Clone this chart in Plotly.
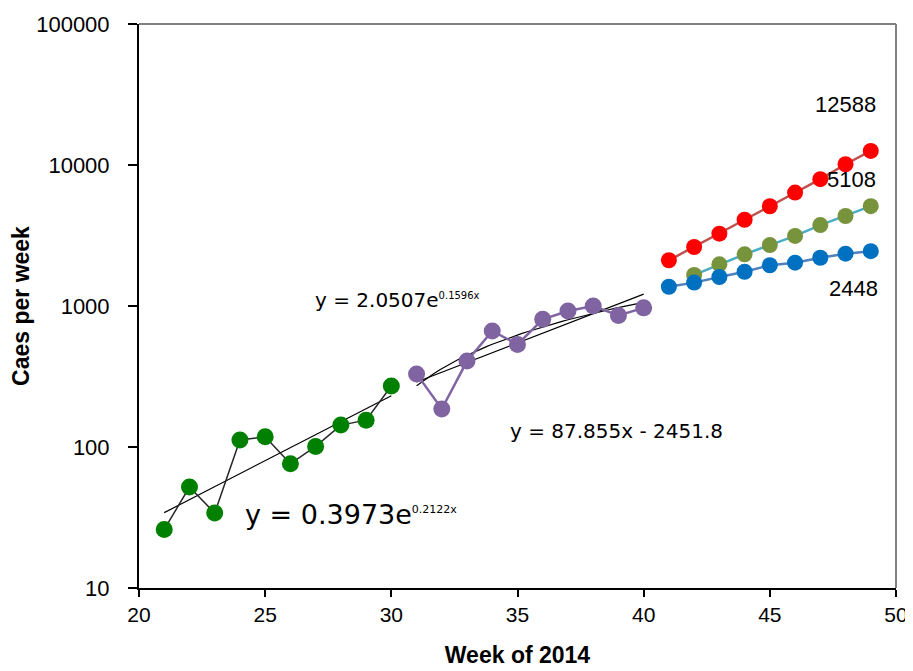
import numpy as np
import plotly.graph_objects as go

# ---- data ----
weeks_early = [21, 22, 23, 24, 25, 26, 27, 28, 29, 30]
cases_early = [26, 52, 34, 112, 118, 76, 101, 143, 155, 271]

weeks_mid = [31, 32, 33, 34, 35, 36, 37, 38, 39, 40]
cases_mid = [330, 186, 407, 665, 534, 804, 921, 1000, 857, 970]

weeks_proj = [41, 42, 43, 44, 45, 46, 47, 48, 49]
proj_high = [2110, 2620, 3260, 4090, 5100, 6370, 7930, 10120, 12588]
weeks_proj_mid = [42, 43, 44, 45, 46, 47, 48, 49]
proj_mid = [1660, 1975, 2325, 2705, 3140, 3750, 4350, 5108]
proj_low = [1370, 1465, 1605, 1750, 1945, 2030, 2200, 2350, 2448]

# trendline coefficients shown on the chart
exp_early = (0.3973, 0.2122)
exp_mid = (2.0507, 0.1596)
lin_mid = (87.855, -2451.8)

y_tickvals = [10, 100, 1000, 10000, 100000]
y_ticktext = ["10", "100", "1000", "10000", "100000"]
x_tickvals = [20, 25, 30, 35, 40, 45, 50]

fig = go.Figure()

# trendlines
xt1 = np.linspace(weeks_early[0], weeks_early[-1], 30)
fig.add_trace(go.Scatter(x=xt1, y=exp_early[0] * np.exp(exp_early[1] * xt1), mode="lines",
                         line=dict(color="#000000", width=1.2), hoverinfo="skip"))
xt2 = np.linspace(weeks_mid[0], weeks_mid[-1], 40)
fig.add_trace(go.Scatter(x=xt2, y=exp_mid[0] * np.exp(exp_mid[1] * xt2), mode="lines",
                         line=dict(color="#000000", width=1.2), hoverinfo="skip"))
fig.add_trace(go.Scatter(x=xt2, y=lin_mid[0] * xt2 + lin_mid[1], mode="lines",
                         line=dict(color="#000000", width=1.2), hoverinfo="skip"))

# observed series
fig.add_trace(go.Scatter(x=weeks_early, y=cases_early, mode="lines+markers",
                         line=dict(color="#262626", width=1.5),
                         marker=dict(color="#008000", size=17)))
fig.add_trace(go.Scatter(x=weeks_mid, y=cases_mid, mode="lines+markers",
                         line=dict(color="#8064A2", width=2.5),
                         marker=dict(color="#8064A2", size=17)))

# projections
fig.add_trace(go.Scatter(x=weeks_proj, y=proj_high, mode="lines+markers",
                         line=dict(color="#C0504D", width=2.5),
                         marker=dict(color="#FF0000", size=16)))
fig.add_trace(go.Scatter(x=weeks_proj_mid, y=proj_mid, mode="lines+markers",
                         line=dict(color="#4BACC6", width=2.5),
                         marker=dict(color="#77933C", size=16)))
fig.add_trace(go.Scatter(x=weeks_proj, y=proj_low, mode="lines+markers",
                         line=dict(color="#4F81BD", width=2.5),
                         marker=dict(color="#0070C0", size=16)))

lab_font = dict(family="Liberation Sans, Arial", size=22, color="#000000")
eq_font = "DejaVu Sans"
annos = [
    dict(x=48.0, y=4.428, text="12588", xanchor="center", yanchor="middle", font=lab_font),
    dict(x=48.23, y=3.896, text="5108", xanchor="center", yanchor="middle", font=lab_font),
    dict(x=48.33, y=3.122, text="2448", xanchor="center", yanchor="middle", font=lab_font),
    dict(x=24.13, y=1.518, xanchor="left", yanchor="middle",
         text="y = 0.3973e<sup><span style='font-size:11px'>0.2122x</span></sup>",
         font=dict(family=eq_font, size=27, color="#000000")),
    dict(x=26.9, y=3.044, xanchor="left", yanchor="middle",
         text="y = 2.0507e<sup><span style='font-size:10px'>0.1596x</span></sup>",
         font=dict(family=eq_font, size=20, color="#000000")),
    dict(x=34.63, y=2.114, xanchor="left", yanchor="middle",
         text="y = 87.855x - 2451.8",
         font=dict(family=eq_font, size=20, color="#000000")),
]
for a in annos:
    a.update(xref="x", yref="y", showarrow=False)

# page body has an 8px margin: figure sits at (8, 8)
fig.update_layout(
    width=905, height=663,
    margin=dict(l=131, r=17, t=16, b=83, autoexpand=False),
    paper_bgcolor="white", plot_bgcolor="white",
    showlegend=False,
    annotations=annos,
    font=dict(family="Liberation Sans, Arial", size=22, color="#000000"),
    xaxis=dict(range=[20, 50], tickvals=x_tickvals, showgrid=False, zeroline=False,
               automargin=False,
               showline=True, linecolor="#000000", linewidth=2,
               ticks="outside", ticklen=7, tickcolor="#000000", tickwidth=1.5,
               tickfont=dict(size=21),
               title=dict(text="<b>Week of 2014</b>", font=dict(size=23), standoff=22)),
    yaxis=dict(type="log", range=[1, 5], tickvals=y_tickvals, ticktext=y_ticktext,
               showgrid=False, zeroline=False, automargin=False,
               showline=True, linecolor="#000000", linewidth=2,
               ticks="outside", ticklen=9, tickcolor="#000000", tickwidth=1.5,
               ticklabelstandoff=14,
               title=dict(text="<b>Caes per week</b>", font=dict(size=23), standoff=0)),
    shapes=[
        dict(type="line", xref="paper", yref="paper", x0=0, x1=1, y0=1, y1=1,
             line=dict(color="#808080", width=2)),
        dict(type="line", xref="paper", yref="paper", x0=1, x1=1, y0=0, y1=1,
             line=dict(color="#808080", width=2)),
    ],
)

fig.write_html("out.html")
